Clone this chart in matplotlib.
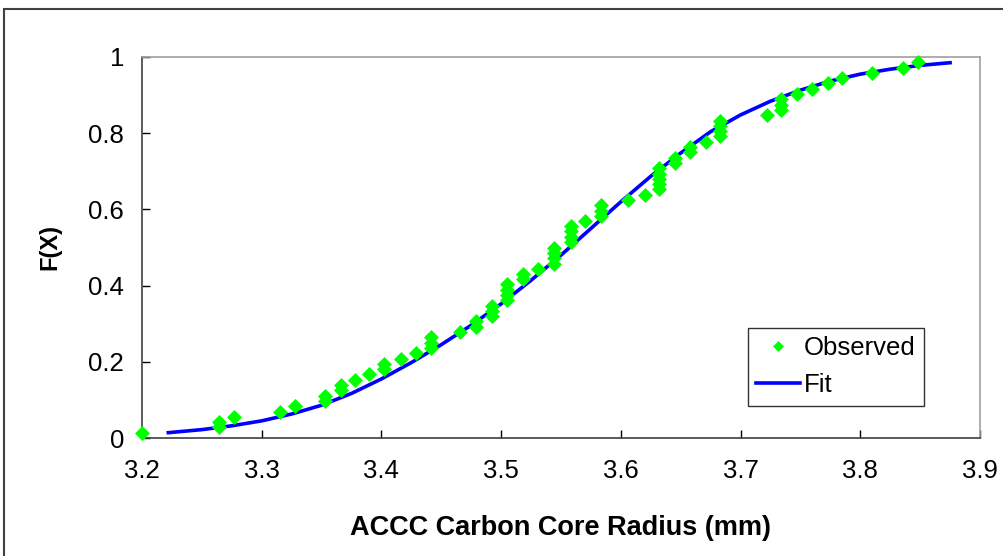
import matplotlib
matplotlib.use("Agg")
import matplotlib.pyplot as plt
from matplotlib.patches import Rectangle

# Observed data (radius in mm, empirical F(X))
obs_x = [3.200, 3.264, 3.264, 3.277, 3.315, 3.328, 3.353, 3.353, 3.366, 3.366,
         3.378, 3.390, 3.402, 3.402, 3.416, 3.429, 3.441, 3.441, 3.441, 3.466,
         3.479, 3.479, 3.492, 3.492, 3.492, 3.505, 3.505, 3.505, 3.505, 3.518,
         3.518, 3.531, 3.544, 3.544, 3.544, 3.544, 3.558, 3.558, 3.558, 3.558,
         3.570, 3.583, 3.583, 3.583, 3.606, 3.620, 3.632, 3.632, 3.632, 3.632,
         3.632, 3.645, 3.645, 3.658, 3.658, 3.671, 3.683, 3.683, 3.683, 3.683,
         3.722, 3.734, 3.734, 3.734, 3.747, 3.760, 3.773, 3.785, 3.810, 3.836,
         3.848]
obs_y = [0.014, 0.028, 0.042, 0.056, 0.069, 0.083, 0.097, 0.111, 0.125, 0.139,
         0.153, 0.167, 0.181, 0.194, 0.208, 0.222, 0.236, 0.250, 0.264, 0.278,
         0.292, 0.306, 0.319, 0.333, 0.347, 0.361, 0.375, 0.389, 0.403, 0.417,
         0.431, 0.444, 0.458, 0.472, 0.486, 0.500, 0.514, 0.528, 0.542, 0.556,
         0.569, 0.583, 0.597, 0.611, 0.625, 0.639, 0.653, 0.667, 0.681, 0.694,
         0.708, 0.722, 0.736, 0.750, 0.764, 0.778, 0.792, 0.806, 0.819, 0.833,
         0.847, 0.861, 0.875, 0.889, 0.903, 0.917, 0.931, 0.944, 0.958, 0.972,
         0.986]

# Fitted CDF curve
fit_x = [3.222, 3.250, 3.275, 3.300, 3.325, 3.350, 3.375, 3.400, 3.425, 3.450,
         3.475, 3.500, 3.525, 3.550, 3.575, 3.600, 3.625, 3.650, 3.675, 3.700,
         3.725, 3.750, 3.775, 3.800, 3.825, 3.850, 3.875]
fit_y = [0.014, 0.022, 0.032, 0.045, 0.063, 0.086, 0.117, 0.155, 0.198, 0.245,
         0.296, 0.352, 0.414, 0.480, 0.550, 0.620, 0.687, 0.748, 0.804, 0.848,
         0.884, 0.913, 0.937, 0.955, 0.968, 0.978, 0.985]

x_ticks = [3.2, 3.3, 3.4, 3.5, 3.6, 3.7, 3.8, 3.9]
x_tick_labels = ["3.2", "3.3", "3.4", "3.5", "3.6", "3.7", "3.8", "3.9"]
y_ticks = [0, 0.2, 0.4, 0.6, 0.8, 1.0]
y_tick_labels = ["0", "0.2", "0.4", "0.6", "0.8", "1"]

plt.rcParams['font.family'] = ['Liberation Sans', 'DejaVu Sans']

W, H = 1004, 556
fig = plt.figure(figsize=(W / 100, H / 100), dpi=100)
fig.patch.set_facecolor('white')

# chart area border
fig.add_artist(Rectangle((4 / W, -0.2), 1.5, 1 - 9 / H + 0.2,
                         transform=fig.transFigure, fill=False,
                         edgecolor='#404040', linewidth=1.5))

ax = fig.add_axes([142 / W, 1 - 438 / H, (980 - 142) / W, (438 - 57) / H])

ax.plot(fit_x, fit_y, color='#0000FF', linewidth=2.6, label='Fit', zorder=2,
        solid_joinstyle='round')
ax.plot(obs_x, obs_y, linestyle='none', marker='D', markersize=6.8,
        markerfacecolor='#00FF00', markeredgecolor='#00FF00', markeredgewidth=0.5,
        label='Observed', zorder=3, clip_on=False)

ax.set_xlim(3.2, 3.9)
ax.set_ylim(0, 1)
ax.set_xticks(x_ticks)
ax.set_xticklabels(x_tick_labels)
ax.set_yticks(y_ticks)
ax.set_yticklabels(y_tick_labels)
ax.tick_params(direction='in', length=6, width=1, labelsize=18.5,
               colors='black')
ax.tick_params(axis='y', pad=13)
ax.tick_params(axis='x', pad=15)

for side in ['top', 'right']:
    ax.spines[side].set_color('#a0a0a0')
    ax.spines[side].set_linewidth(1.2)
for side in ['left', 'bottom']:
    ax.spines[side].set_color('#404040')
    ax.spines[side].set_linewidth(1.2)

ax.set_xlabel('ACCC Carbon Core Radius (mm)', fontsize=19.5, fontweight='bold',
              labelpad=23)
ax.set_ylabel('F(X)', fontsize=17, fontweight='bold', labelpad=19)

handles, labels = ax.get_legend_handles_labels()
leg = ax.legend([handles[1], handles[0]], [labels[1], labels[0]],
                loc='upper left', bbox_to_anchor=((748 - 142) / 838, (438 - 328) / 381),
                fontsize=18.5, frameon=True, fancybox=False, shadow=False,
                borderpad=0.33, handlelength=1.7, handletextpad=0.15,
                labelspacing=0.5, borderaxespad=0, markerscale=0.8)
leg.get_frame().set_edgecolor('black')
leg.get_frame().set_linewidth(1.0)

fig.savefig('out.png', dpi=100, facecolor='white')
